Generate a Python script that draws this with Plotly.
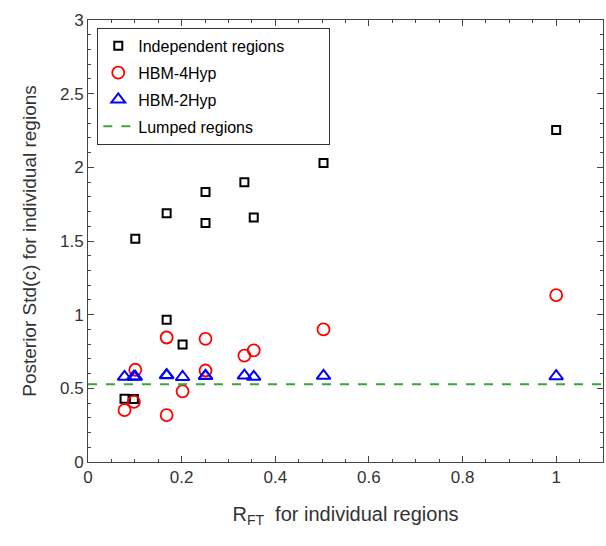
import plotly.graph_objects as go

# Region R_FT values (x) and posterior std values
x_regions = [0.078, 0.098, 0.101, 0.168, 0.168, 0.202, 0.251, 0.251, 0.334, 0.354, 0.503, 1.0]
independent = [0.43, 0.428, 1.516, 1.688, 0.966, 0.798, 1.832, 1.623, 1.899, 1.659, 2.029, 2.253]
hbm_4hyp = [0.352, 0.408, 0.626, 0.845, 0.318, 0.480, 0.836, 0.621, 0.722, 0.758, 0.900, 1.132]
hbm_2hyp = [0.578, 0.580, 0.578, 0.590, 0.588, 0.577, 0.583, 0.585, 0.587, 0.578, 0.585, 0.582]
lumped_value = 0.527
x_range = [0, 1.1]

FONT = "Liberation Sans, Arial, sans-serif"
NB = "\u00a0"

fig = go.Figure()
fig.add_trace(go.Scatter(
    x=x_regions, y=independent, mode="markers", name="Independent regions" + NB * 9,
    legendgroup="a",
    marker=dict(symbol="square-open", size=8, color="black", line=dict(width=2, color="black"))))
fig.add_trace(go.Scatter(
    x=x_regions, y=hbm_4hyp, mode="markers", name="HBM-4Hyp", legendgroup="b",
    marker=dict(symbol="circle-open", size=12, color="red", line=dict(width=1.8, color="red"))))
fig.add_trace(go.Scatter(
    x=x_regions, y=hbm_2hyp, mode="markers", name="HBM-2Hyp", legendgroup="c",
    marker=dict(symbol="triangle-up-open", size=12, color="blue", line=dict(width=2, color="blue"))))
fig.add_trace(go.Scatter(
    x=x_range, y=[lumped_value, lumped_value], mode="lines", name="Lumped regions", legendgroup="d",
    line=dict(color="rgb(60,165,60)", width=2, dash="dash")))

axis_common = dict(
    showline=True, linecolor="#444", linewidth=1, mirror="ticks",
    ticks="inside", ticklen=6, tickcolor="#444", showgrid=False, zeroline=False,
    tickfont=dict(family=FONT, size=17, color="#333"),
)

fig.update_xaxes(
    range=x_range, dtick=0.2, tick0=0,
    minor=dict(ticks="inside", dtick=0.05, ticklen=3, tickcolor="#444"),
    title=dict(text="R<sub>FT</sub>  for individual regions", font=dict(family=FONT, size=20, color="#333"), standoff=20),
    **axis_common)
fig.update_yaxes(
    range=[0, 3], dtick=0.5, tick0=0,
    minor=dict(ticks="inside", dtick=0.1, ticklen=3, tickcolor="#444"),
    title=dict(text="Posterior Std(c) for individual regions", font=dict(family=FONT, size=19, color="#333"), standoff=18),
    **axis_common)

fig.update_layout(
    width=606, height=546,
    margin=dict(l=88, r=3, t=20, b=84),
    plot_bgcolor="white", paper_bgcolor="white",
    legend=dict(x=0.018, y=0.982, xanchor="left", yanchor="top",
                bgcolor="white", bordercolor="#333", borderwidth=1,
                font=dict(family=FONT, size=16, color="black"),
                tracegroupgap=3),
    showlegend=True,
)

fig.write_html("out.html")
